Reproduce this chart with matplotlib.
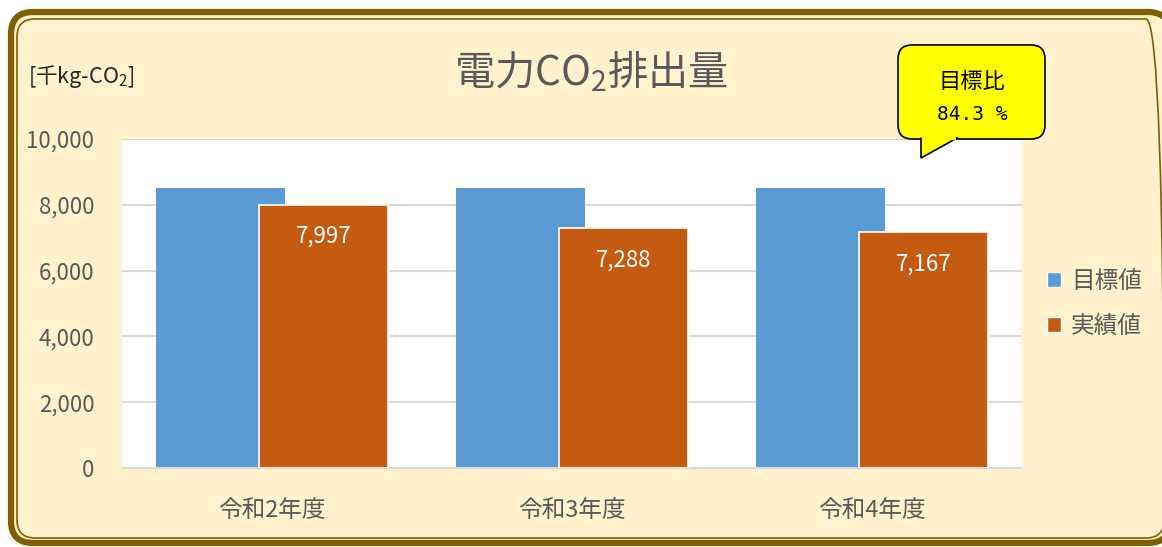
import numpy as np
import matplotlib
matplotlib.use("Agg")
import matplotlib.pyplot as plt
from matplotlib.patches import FancyBboxPatch, Polygon, Patch
from matplotlib.transforms import IdentityTransform
from matplotlib.ticker import FuncFormatter

# ----- data -----
categories = ['令和2年度', '令和3年度', '令和4年度']
target_vals = [8500, 8500, 8500]     # 目標値
actual_vals = [7997, 7288, 7167]     # 実績値
series_names = ['目標値', '実績値']
y_ticks = [0, 2000, 4000, 6000, 8000, 10000]

W, H = 1162, 547
BLUE = '#5B9BD5'
ORANGE = '#C55A11'
GRAY = '#595959'
BG = '#FFF2CC'
BROWN = '#7F6000'

plt.rcParams['font.family'] = ['Noto Sans CJK JP', 'DejaVu Sans']
plt.rcParams['mathtext.fontset'] = 'custom'
plt.rcParams['mathtext.rm'] = 'Noto Sans CJK JP'
plt.rcParams['mathtext.it'] = 'Noto Sans CJK JP'


def fx(x):  # pixel x -> figure fraction
    return x / W


def fy(y):  # pixel y (top origin) -> figure fraction
    return 1 - y / H


fig = plt.figure(figsize=(W / 100, H / 100), dpi=100, facecolor='white')

# outer rounded frame (double line)
ident = IdentityTransform()
fig.patches.append(FancyBboxPatch((11 + 22, H - 543 + 22), 1170 - 11 - 44, 543 - 12 - 44,
                                  boxstyle='round,pad=22', fc=BG, ec=BROWN, lw=4.5,
                                  transform=ident, figure=fig, zorder=0))
fig.patches.append(FancyBboxPatch((17 + 18, H - 538 + 18), 1164 - 17 - 36, 538 - 19 - 36,
                                  boxstyle='round,pad=18', fc='none', ec=BROWN, lw=1.2,
                                  transform=ident, figure=fig, zorder=1))

ax = fig.add_axes((fx(122), fy(468), fx(1022) - fx(122), fy(139) - fy(468)))
ax.set_zorder(2)
ax.set_facecolor('white')

x = np.arange(len(categories))
bw = 0.43
off = 0.172
ax.bar(x - off, target_vals, width=bw, color=BLUE, zorder=2, label=series_names[0])
bars = ax.bar(x + off, actual_vals, width=bw, color=ORANGE, edgecolor='white',
              linewidth=1.2, zorder=3, label=series_names[1])

for b, v in zip(bars, actual_vals):
    ax.annotate(f'{v:,}', (b.get_x() + b.get_width() / 2, v), xytext=(0, -20),
                textcoords='offset pixels', ha='center', va='top', color='white',
                fontsize=16, zorder=4)

ax.set_xlim(-0.5, len(categories) - 0.5)
ax.set_ylim(0, 10000)
ax.set_yticks(y_ticks)
ax.yaxis.set_major_formatter(FuncFormatter(lambda v, p: f'{int(v):,}'))
ax.set_xticks(x)
ax.set_xticklabels(categories)
ax.grid(axis='y', color='#D9D9D9', lw=1.5, zorder=1)
ax.set_axisbelow(True)
for s in ['top', 'right', 'left']:
    ax.spines[s].set_visible(False)
ax.spines['bottom'].set_color('#D9D9D9')
ax.spines['bottom'].set_linewidth(1.5)
ax.tick_params(axis='y', length=0, pad=20, labelsize=16, labelcolor=GRAY)
ax.tick_params(axis='x', length=0, pad=22, labelsize=17, labelcolor=GRAY)

# title and unit
fig.text(fx(591), fy(72), '電力CO$_2$排出量', ha='center', va='center',
         fontsize=29, color=GRAY)
fig.text(fx(28), fy(77), '[千kg-CO$_2$]', ha='left', va='center',
         fontsize=15.5, color='#262626')

# legend
handles = [Patch(facecolor=BLUE, edgecolor='white', lw=1),
           Patch(facecolor=ORANGE, edgecolor='white', lw=1)]
fig.legend(handles, series_names, loc='center left', bbox_to_anchor=(fx(1026), fy(304)),
           frameon=False, fontsize=17, labelcolor=GRAY, handlelength=0.6,
           handleheight=0.6, handletextpad=0.4, labelspacing=0.95)

# callout bubble
ratio = actual_vals[-1] / target_vals[-1] * 100
fig.patches.append(FancyBboxPatch((898 + 14, H - 139 + 14), 1045 - 898 - 28, 139 - 45 - 28,
                                  boxstyle='round,pad=14', fc='#FFFF00', ec='black', lw=1.2,
                                  transform=ident, figure=fig, zorder=5))
fig.patches.append(Polygon([(921, H - 139 + 1.5), (921, H - 158), (958, H - 139 + 1.5)],
                           closed=False, fc='#FFFF00', ec='black', lw=1.2,
                           transform=ident, figure=fig, zorder=6))
fig.patches.append(Polygon([(922.2, H - 137.5), (922.2, H - 140), (956, H - 140), (956, H - 137.5)],
                           closed=True, fc='#FFFF00', ec='none',
                           transform=ident, figure=fig, zorder=7))
fig.text(fx(972), fy(81), '目標比', ha='center', va='center', fontsize=16,
         color='black', zorder=8)
fig.text(fx(972), fy(115), f'{ratio:.1f} %', ha='center', va='center', fontsize=14,
         color='black', family='DejaVu Sans Mono', zorder=8)

fig.savefig('out.png', dpi=100, facecolor='white')
